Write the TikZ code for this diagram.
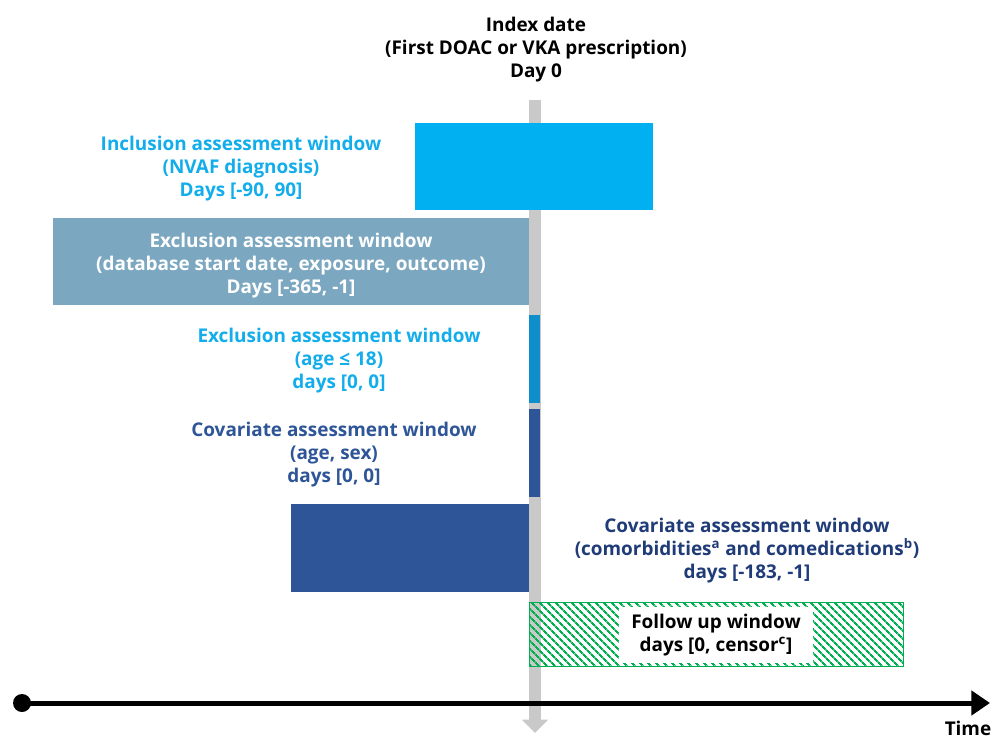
\documentclass[tikz,border=0pt]{standalone}
\usepackage{fontspec}
\setmainfont{Open Sans}
\usetikzlibrary{arrows.meta,patterns.meta}

\definecolor{incblue}{HTML}{00B0F0}
\definecolor{inctext}{HTML}{12ADEA}
\definecolor{exclgray}{HTML}{7BA7C1}
\definecolor{agebar}{HTML}{0E8FCB}
\definecolor{covblue}{HTML}{2E5597}
\definecolor{covnavy}{HTML}{1F3B78}
\definecolor{fugreen}{HTML}{00B050}
\definecolor{daygray}{HTML}{C9C9C9}

\tikzset{
  lbl/.style={align=center, font=\bfseries\fontsize{14.2}{17.25}\selectfont, inner sep=0pt},
  dayline/.style={daygray, line width=9pt, -{Triangle[width=19pt,length=10pt]}},
  timeline/.style={black, line width=3.75pt, -{Triangle[width=18pt,length=14pt]}},
}

\begin{document}
\begin{tikzpicture}[x=0.75pt,y=-0.75pt]
\useasboundingbox (0,0) rectangle (992,738);

\coordinate (d0top) at (535,100);
\coordinate (d0bot) at (535,733);
\draw[dayline] (d0top) -- (d0bot);

\node[lbl] (index) at (536,50) {Index date\\(First DOAC or VKA prescription)\\Day 0};

\fill[incblue] (415,123) rectangle (653,210);
\node[lbl, text=inctext] (incl) at (241,169) {Inclusion assessment window\\(NVAF diagnosis)\\Days [-90, 90]};

\fill[exclgray] (53,218) rectangle (529,305);
\node[lbl, text=white] (excl) at (291,266) {Exclusion assessment window\\(database start date, exposure, outcome)\\Days [-365, -1]};

\fill[agebar] (529,315) rectangle (540,403);
\node[lbl, text=inctext] (exage) at (339,361) {Exclusion assessment window\\(age ≤ 18)\\days [0, 0]};

\fill[covblue] (529,409) rectangle (540,497);
\node[lbl, text=covblue] (covage) at (334,455) {Covariate assessment window\\(age, sex)\\days [0, 0]};

\fill[covblue] (291,504) rectangle (529,592);
\node[lbl, text=covnavy] (covcom) at (747,551) {Covariate assessment window\\(comorbidities\textsuperscript{a} and comedications\textsuperscript{b})\\days [-183, -1]};

\path[pattern={Lines[angle=-45,distance=4pt,line width=1.6pt]}, pattern color=fugreen] (529,602) rectangle (903,666);
\draw[fugreen, line width=0.75pt] (529,602) rectangle (903,666);
\node[lbl, fill=white, minimum width=145pt, minimum height=42pt] (fu) at (716,635) {Follow up window\\days [0, censor\textsuperscript{c}]};

\node[circle, fill=black, minimum size=13.5pt, inner sep=0pt] (t0) at (22,703) {};
\coordinate (tend) at (990,703);
\draw[timeline] (t0.center) -- (tend);
\node[lbl, anchor=base] (time) at (968,735) {Time};

\end{tikzpicture}
\end{document}
